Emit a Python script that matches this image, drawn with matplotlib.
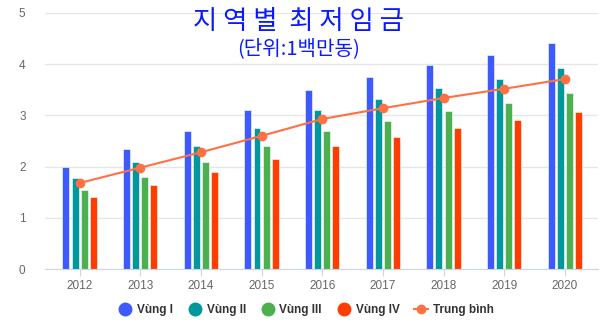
import matplotlib
matplotlib.use("Agg")
import matplotlib.pyplot as plt
import numpy as np
from matplotlib.lines import Line2D

years = ["2012", "2013", "2014", "2015", "2016", "2017", "2018", "2019", "2020"]
vung1 = [2.00, 2.35, 2.70, 3.10, 3.50, 3.75, 3.98, 4.18, 4.42]
vung2 = [1.78, 2.10, 2.40, 2.75, 3.10, 3.32, 3.53, 3.71, 3.92]
vung3 = [1.55, 1.80, 2.10, 2.40, 2.70, 2.90, 3.09, 3.25, 3.43]
vung4 = [1.40, 1.65, 1.90, 2.15, 2.40, 2.58, 2.76, 2.92, 3.07]
trung_binh = [1.68, 1.98, 2.28, 2.60, 2.93, 3.14, 3.34, 3.52, 3.71]
series_names = ["Vùng I", "Vùng II", "Vùng III", "Vùng IV"]
line_name = "Trung bình"
title = "지 역 별  최 저 임 금"
subtitle = "(단위:1백만동)"

colors = ["#3d5afe", "#00979d", "#4caf50", "#ff3d00"]
line_color = "#ff7043"

plt.rcParams['font.family'] = ['Liberation Sans', 'DejaVu Sans']
fig = plt.figure(figsize=(6, 3.33), dpi=100)
ax = fig.add_axes([0.075, 0.192, 0.922, 0.769])

x = np.arange(len(years))
bw = 0.115
step = 0.15
offsets = [-1.5 * step, -0.5 * step, 0.5 * step, 1.5 * step]
for vals, c, off, name in zip([vung1, vung2, vung3, vung4], colors, offsets, series_names):
    ax.bar(x + off, vals, width=bw, color=c, edgecolor="white", linewidth=0.4, zorder=2, label=name)
ax.plot(x, trung_binh, color=line_color, lw=1.5, marker="o", ms=6, zorder=3, label=line_name)

ax.set_xlim(-0.57, 8.55)
ax.set_ylim(0, 5)
ax.set_yticks([0, 1, 2, 3, 4, 5])
ax.set_xticks(x)
ax.set_xticklabels(years)
ax.grid(axis="y", color="#e6e6e6", lw=1, zorder=0)
for s in ["top", "right", "left"]:
    ax.spines[s].set_visible(False)
ax.spines["bottom"].set_color("#ccd6eb")
ax.tick_params(axis="y", length=0, colors="#666666", labelsize=8.5, pad=14)
ax.tick_params(axis="x", length=5, color="#ccd6eb", colors="#666666", labelsize=8.5, pad=3)

fig.text(0.498, 0.935, title, ha="center", va="center", color="#0a1aff", fontsize=19,
         family=["Noto Sans CJK KR", "DejaVu Sans"])
fig.text(0.497, 0.855, subtitle, ha="center", va="center", color="#0a1aff", fontsize=14.5,
         family=["Noto Sans CJK KR", "DejaVu Sans"])

handles = [Line2D([], [], marker="o", ls="none", color=c, ms=9) for c in colors]
handles.append(Line2D([], [], marker="o", color=line_color, ms=6, lw=1.5))
leg = fig.legend(handles, series_names + [line_name], loc="center", bbox_to_anchor=(0.51, 0.068),
                 ncol=5, frameon=False, handlelength=1.2, handletextpad=0.4, columnspacing=1.25,
                 prop={"weight": "bold", "size": 8.5, "family": "Liberation Sans"})
for t in leg.get_texts():
    t.set_color("#333333")

fig.savefig("out.png", dpi=100)
